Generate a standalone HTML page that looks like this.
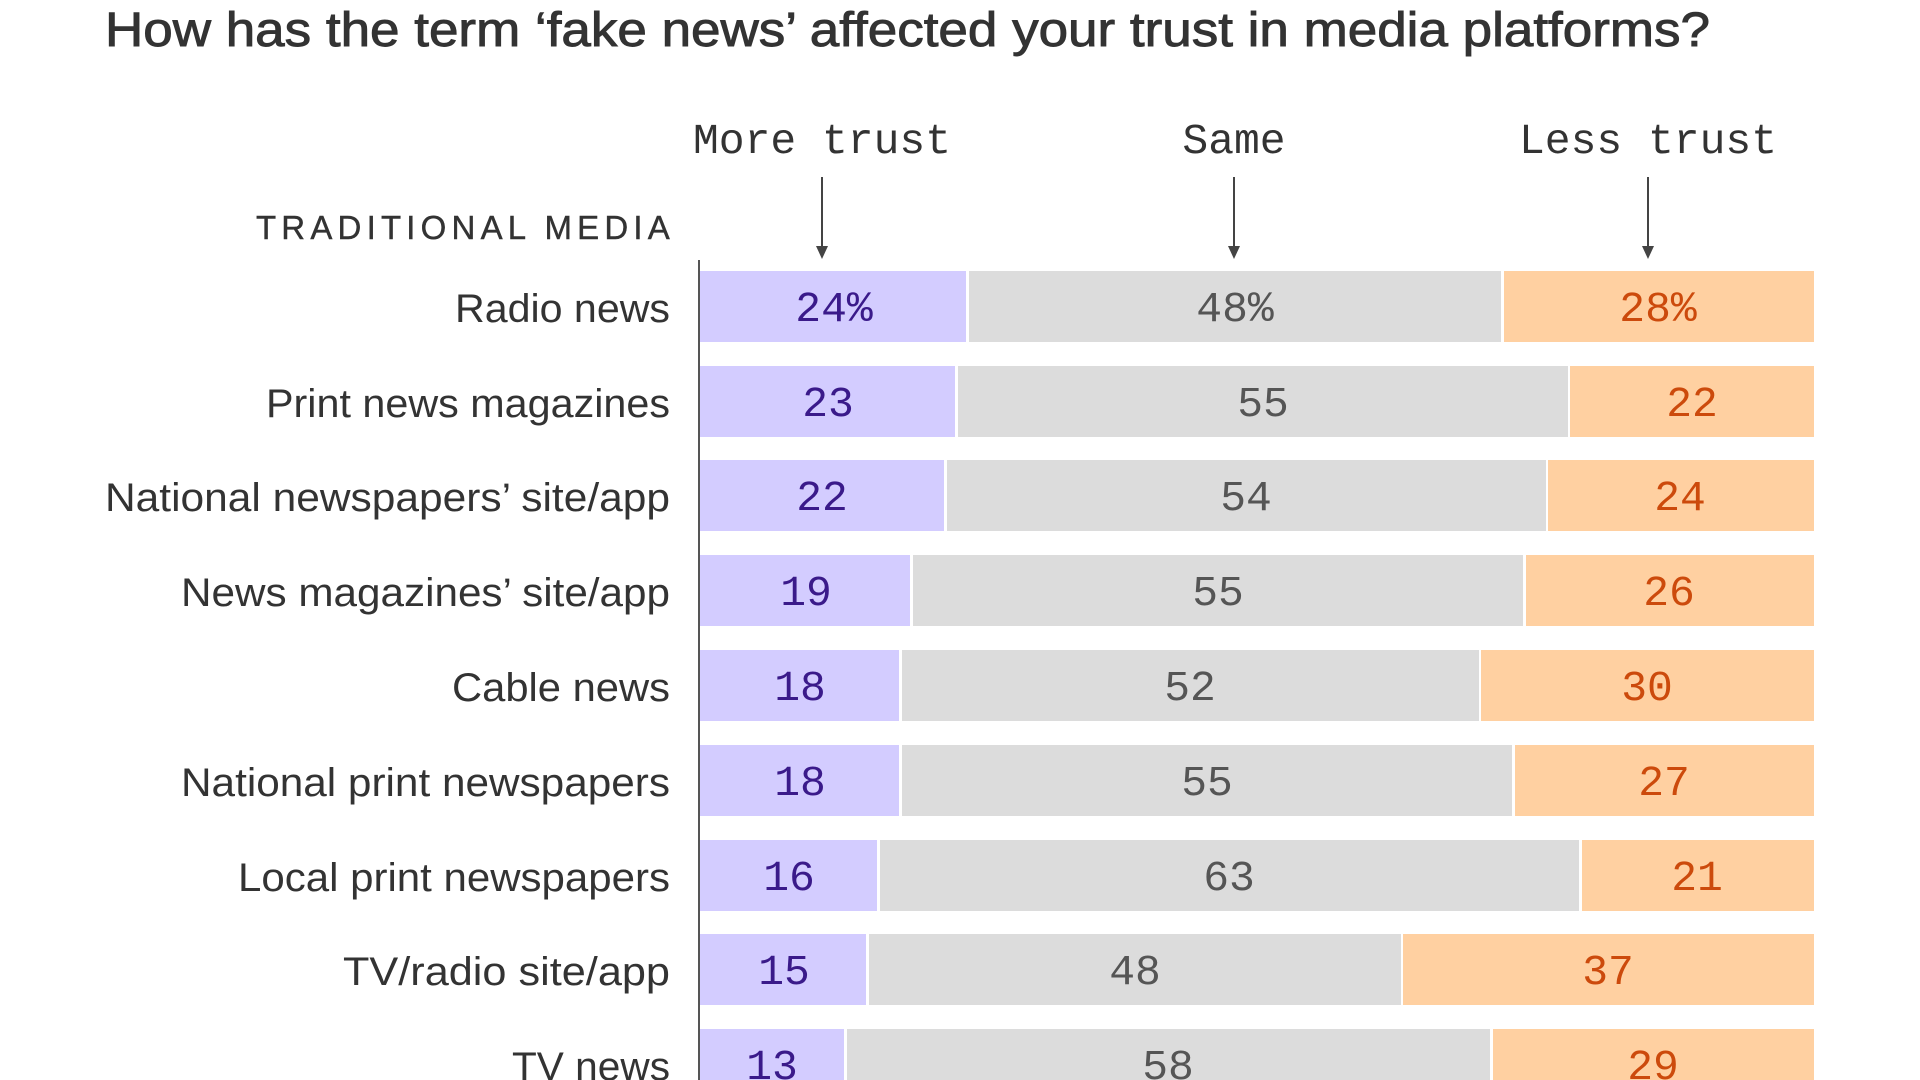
<!DOCTYPE html>
<html><head><meta charset="utf-8"><style>
html,body{margin:0;padding:0;background:#fff;width:1920px;height:1080px;overflow:hidden}
.l{font-family:"Liberation Sans",sans-serif;font-size:40px;fill:#333;text-anchor:end}
.m{font-family:"Liberation Mono",monospace;font-size:43px;text-anchor:middle}
.p{fill:#3a1a8a}.g{fill:#555}.o{fill:#cc4a0c}
.bp{fill:#d3ccff}.bg{fill:#dcdcdc}.bo{fill:#ffd0a1}
</style></head><body>
<svg width="1920" height="1080" viewBox="0 0 1920 1080" xmlns="http://www.w3.org/2000/svg">
<text x="105" y="46" font-family="Liberation Sans,sans-serif" font-size="48" fill="#333" stroke="#333" stroke-width="0.9" textLength="1605" lengthAdjust="spacingAndGlyphs">How has the term ‘fake news’ affected your trust in media platforms?</text>
<g font-family="Liberation Mono,monospace" font-size="43" fill="#333" text-anchor="middle">
<text x="822" y="153">More trust</text><text x="1234" y="153">Same</text><text x="1648" y="153">Less trust</text></g>
<g stroke="#444" stroke-width="2"><line x1="822" y1="177" x2="822" y2="250"/><line x1="1234" y1="177" x2="1234" y2="250"/><line x1="1648" y1="177" x2="1648" y2="250"/></g>
<g fill="#444"><path d="M816 246 L828 246 L822 259Z"/><path d="M1228 246 L1240 246 L1234 259Z"/><path d="M1642 246 L1654 246 L1648 259Z"/></g>
<text x="675" y="239" font-family="Liberation Sans,sans-serif" font-size="33" fill="#333" stroke="#333" stroke-width="0.4" text-anchor="end" letter-spacing="5.2">TRADITIONAL MEDIA</text>
<line x1="699" y1="260" x2="699" y2="1080" stroke="#555" stroke-width="2"/>
<g>
<rect class="bp" x="700" y="271" width="266" height="71"/><rect class="bg" x="969" y="271" width="532" height="71"/><rect class="bo" x="1504" y="271" width="310" height="71"/>
<rect class="bp" x="700" y="366" width="255" height="71"/><rect class="bg" x="958" y="366" width="610" height="71"/><rect class="bo" x="1570" y="366" width="244" height="71"/>
<rect class="bp" x="700" y="460" width="244" height="71"/><rect class="bg" x="947" y="460" width="599" height="71"/><rect class="bo" x="1548" y="460" width="266" height="71"/>
<rect class="bp" x="700" y="555" width="210" height="71"/><rect class="bg" x="913" y="555" width="610" height="71"/><rect class="bo" x="1526" y="555" width="288" height="71"/>
<rect class="bp" x="700" y="650" width="199" height="71"/><rect class="bg" x="902" y="650" width="577" height="71"/><rect class="bo" x="1481" y="650" width="333" height="71"/>
<rect class="bp" x="700" y="745" width="199" height="71"/><rect class="bg" x="902" y="745" width="610" height="71"/><rect class="bo" x="1515" y="745" width="299" height="71"/>
<rect class="bp" x="700" y="840" width="177" height="71"/><rect class="bg" x="880" y="840" width="699" height="71"/><rect class="bo" x="1582" y="840" width="232" height="71"/>
<rect class="bp" x="700" y="934" width="166" height="71"/><rect class="bg" x="869" y="934" width="532" height="71"/><rect class="bo" x="1403" y="934" width="411" height="71"/>
<rect class="bp" x="700" y="1029" width="144" height="71"/><rect class="bg" x="847" y="1029" width="643" height="71"/><rect class="bo" x="1493" y="1029" width="321" height="71"/>
</g>
<g class="l">
<text x="670" y="322" textLength="215" lengthAdjust="spacingAndGlyphs">Radio news</text>
<text x="670" y="417" textLength="404" lengthAdjust="spacingAndGlyphs">Print news magazines</text>
<text x="670" y="511" textLength="565" lengthAdjust="spacingAndGlyphs">National newspapers’ site/app</text>
<text x="670" y="606" textLength="489" lengthAdjust="spacingAndGlyphs">News magazines’ site/app</text>
<text x="670" y="701" textLength="218" lengthAdjust="spacingAndGlyphs">Cable news</text>
<text x="670" y="796" textLength="489" lengthAdjust="spacingAndGlyphs">National print newspapers</text>
<text x="670" y="891" textLength="432" lengthAdjust="spacingAndGlyphs">Local print newspapers</text>
<text x="670" y="985" textLength="327" lengthAdjust="spacingAndGlyphs">TV/radio site/app</text>
<text x="670" y="1080" textLength="158" lengthAdjust="spacingAndGlyphs">TV news</text>
</g>
<g class="m">
<text class="p" x="834" y="321">24%</text><text class="g" x="1235" y="321">48%</text><text class="o" x="1658" y="321">28%</text>
<text class="p" x="828" y="416">23</text><text class="g" x="1263" y="416">55</text><text class="o" x="1692" y="416">22</text>
<text class="p" x="822" y="510">22</text><text class="g" x="1246" y="510">54</text><text class="o" x="1680" y="510">24</text>
<text class="p" x="806" y="605">19</text><text class="g" x="1218" y="605">55</text><text class="o" x="1669" y="605">26</text>
<text class="p" x="800" y="700">18</text><text class="g" x="1190" y="700">52</text><text class="o" x="1647" y="700">30</text>
<text class="p" x="800" y="795">18</text><text class="g" x="1207" y="795">55</text><text class="o" x="1664" y="795">27</text>
<text class="p" x="789" y="890">16</text><text class="g" x="1229" y="890">63</text><text class="o" x="1697" y="890">21</text>
<text class="p" x="784" y="984">15</text><text class="g" x="1135" y="984">48</text><text class="o" x="1608" y="984">37</text>
<text class="p" x="772" y="1079">13</text><text class="g" x="1168" y="1079">58</text><text class="o" x="1653" y="1079">29</text>
</g>
</svg>
</body></html>
